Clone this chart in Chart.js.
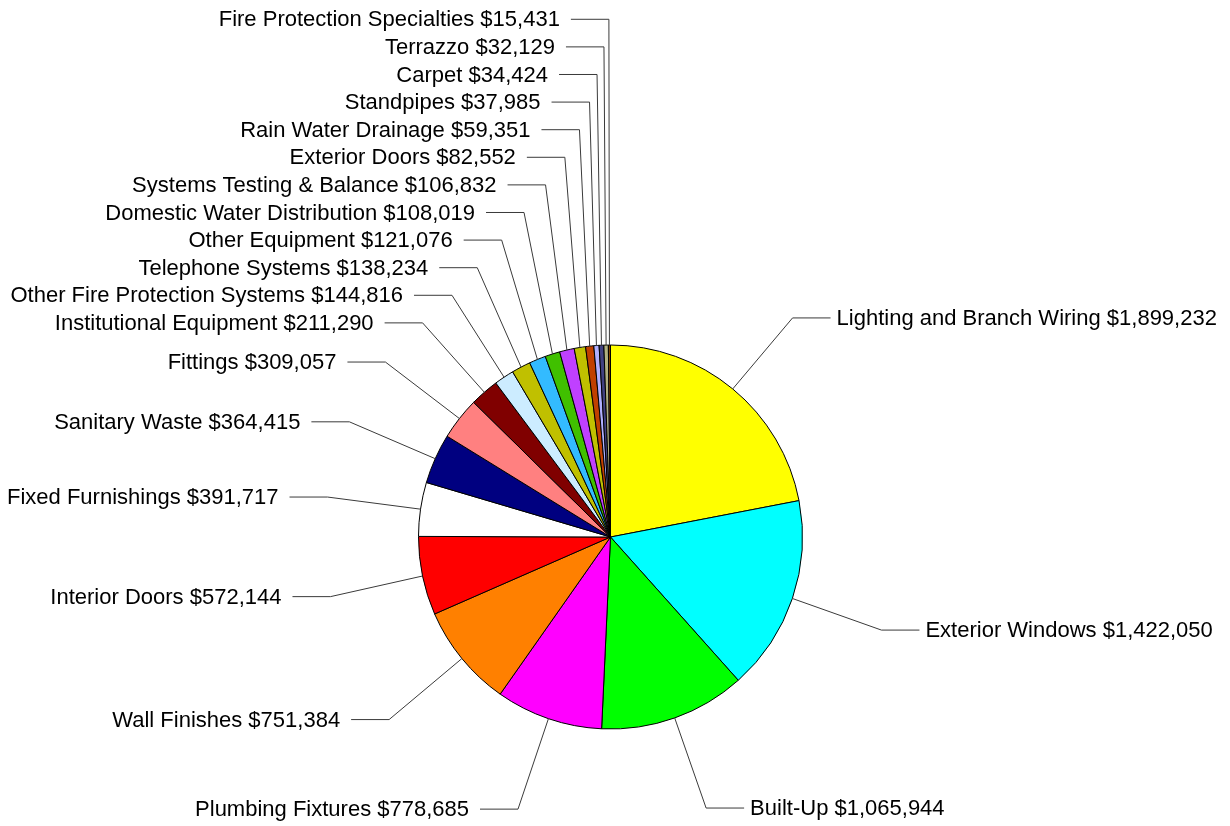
<!DOCTYPE html>
<html>
<head>
<meta charset="utf-8">
<script src="https://cdn.jsdelivr.net/npm/chart.js@4/dist/chart.umd.min.js"></script>
<style>
  html, body { margin: 0; padding: 0; background: #ffffff; }
  #wrap { width: 1230px; height: 826px; position: relative; }
</style>
</head>
<body>
<div id="wrap"><canvas id="chart"></canvas></div>
<script>
const categories = [
  'Lighting and Branch Wiring', 'Exterior Windows', 'Built-Up', 'Plumbing Fixtures',
  'Wall Finishes', 'Interior Doors', 'Fixed Furnishings', 'Sanitary Waste', 'Fittings',
  'Institutional Equipment', 'Other Fire Protection Systems', 'Telephone Systems',
  'Other Equipment', 'Domestic Water Distribution', 'Systems Testing & Balance',
  'Exterior Doors', 'Rain Water Drainage', 'Standpipes', 'Carpet', 'Terrazzo',
  'Fire Protection Specialties'
];
const costs = [
  1899232, 1422050, 1065944, 778685, 751384, 572144, 391717, 364415, 309057,
  211290, 144816, 138234, 121076, 108019, 106832, 82552, 59351, 37985, 34424, 32129, 15431
];
const sliceColors = [
  '#FFFF00', '#00FFFF', '#00FF00', '#FF00FF', '#FF8000', '#FF0000', '#FFFFFF',
  '#000080', '#FF8080', '#800000', '#CCECFF', '#C0C000', '#33BBFF', '#40C000',
  '#C040FF', '#C0C000', '#C04000', '#B0B0FF', '#404080', '#B0B080', '#804000'
];

const FONT = '22px "Liberation Sans", Arial, sans-serif';

// leader lines + labels, stacked so they do not overlap
const leaderLabels = {
  id: 'leaderLabels',
  afterDatasetsDraw(chart) {
    const ctx = chart.ctx;
    const arcs = chart.getDatasetMeta(0).data;
    const items = arcs.map((arc, i) => {
      const mid = (arc.startAngle + arc.endAngle) / 2;
      const R = arc.outerRadius;
      const elbowR = R + 94;
      return {
        text: categories[i] + ' $' + costs[i].toLocaleString('en-US'),
        ex: arc.x + Math.cos(mid) * R,
        ey: arc.y + Math.sin(mid) * R,
        bx: arc.x + Math.cos(mid) * elbowR,
        by: arc.y + Math.sin(mid) * elbowR + 1.5,
        right: Math.cos(mid) >= 0
      };
    });

    const gap = 27.6;
    // left side: go from bottom to top, keep a minimum spacing
    const left = items.filter(it => !it.right);
    let prev = Infinity;
    left.forEach(it => {
      if (it.by > prev - gap) it.by = prev - gap;
      prev = it.by;
    });
    const right = items.filter(it => it.right);
    prev = -Infinity;
    right.forEach(it => {
      if (it.by < prev + gap) it.by = prev + gap;
      prev = it.by;
    });

    ctx.save();
    ctx.font = FONT;
    ctx.fillStyle = '#000000';
    ctx.textBaseline = 'middle';
    ctx.lineWidth = 1;
    ctx.strokeStyle = '#3a3a3a';
    items.forEach(it => {
      const dir = it.right ? 1 : -1;
      const hx = it.bx + dir * 38;
      ctx.beginPath();
      ctx.moveTo(it.ex, it.ey);
      ctx.lineTo(it.bx, it.by);
      ctx.lineTo(hx, it.by);
      ctx.stroke();
      ctx.textAlign = it.right ? 'left' : 'right';
      ctx.fillText(it.text, hx + dir * (it.right ? 6 : 11), it.by + 1);
    });
    ctx.restore();
  }
};

new Chart(document.getElementById('chart'), {
  type: 'pie',
  data: {
    labels: categories,
    datasets: [{
      data: costs,
      backgroundColor: sliceColors,
      borderColor: '#000000',
      borderWidth: 1,
      hoverOffset: 0,
      radius: 192
    }]
  },
  options: {
    responsive: true,
    maintainAspectRatio: false,
    animation: false,
    layout: {
      padding: { left: 410.5, right: 419.5, top: 337, bottom: 89 }
    },
    plugins: {
      legend: { display: false },
      tooltip: { enabled: false }
    }
  },
  plugins: [leaderLabels]
});
</script>
</body>
</html>
